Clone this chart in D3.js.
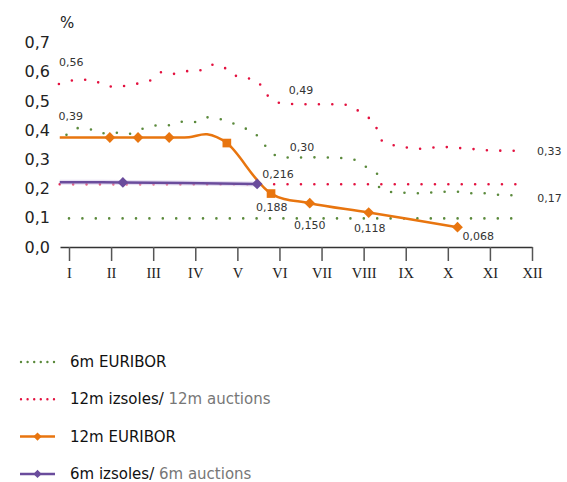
<!DOCTYPE html>
<html>
<head>
<meta charset="utf-8">
<script src="https://cdn.jsdelivr.net/npm/d3@7"></script>
<style>
  body { margin: 0; background: #fff; }
  svg { display: block; font-family: "DejaVu Sans", Verdana, sans-serif; }
</style>
</head>
<body>
<div id="chart"></div>
<script>
var months = ["I", "II", "III", "IV", "V", "VI", "VII", "VIII", "IX", "X", "XI", "XII"];
var yTicks = [0, 0.1, 0.2, 0.3, 0.4, 0.5, 0.6, 0.7];

// [month position, value]
var euribor6m = [[0.94,0.384],[1.19,0.407],[1.48,0.404],[1.75,0.389],[2.04,0.393],[2.35,0.386],
  [2.85,0.410],[3.13,0.417],[3.41,0.417],[3.69,0.429],[3.99,0.428],[4.27,0.444],[4.56,0.439],
  [4.83,0.428],[5.08,0.410],[5.38,0.397],[5.55,0.364],[5.74,0.336],[5.97,0.309],[6.29,0.306],
  [6.91,0.307],[7.53,0.304],[7.83,0.297],[8.08,0.272],[8.33,0.249],[8.37,0.204],[8.63,0.189],
  [8.95,0.186],[9.25,0.184],[9.55,0.186],[9.86,0.189],[10.17,0.190],[10.49,0.184],[10.79,0.185],
  [11.10,0.180],[11.41,0.178],[11.70,0.176]];
var euribor6mBase = [[1.0,0.098],[11.75,0.098]];

var auctions12m = [[0.76,0.558],[1.26,0.573],[1.59,0.570],[1.86,0.552],[2.14,0.549],[2.45,0.555],
  [2.73,0.563],[2.97,0.573],[3.23,0.600],[3.49,0.593],[3.78,0.602],[4.09,0.604],[4.37,0.624],
  [4.64,0.619],[4.85,0.593],[5.16,0.580],[5.47,0.570],[5.63,0.534],[5.85,0.503],[6.15,0.490],
  [6.79,0.489],[7.44,0.489],[7.75,0.478],[8.01,0.451],[8.27,0.424],[8.35,0.384],[8.56,0.352],
  [8.88,0.346],[9.20,0.336],[9.51,0.338],[9.83,0.343],[10.16,0.340],[10.47,0.337],[10.79,0.333],
  [11.10,0.330],[11.43,0.330],[11.74,0.329]];
var auctions12mBase = [[0.78,0.215],[11.65,0.215]];

var euribor12m = [[0.78,0.375],[1.97,0.375],[2.64,0.375],[3.38,0.375],[3.85,0.376],[4.28,0.386],[4.75,0.356],
  [5.80,0.183],[6.72,0.150],[8.12,0.118],[10.23,0.068]];
var auctions6m = [[0.78,0.222],[2.28,0.221],[5.47,0.216]];

var legendNames = [["6m EURIBOR", ""], ["12m izsoles/", " 12m auctions"], ["12m EURIBOR", ""], ["6m izsoles/", " 6m auctions"]];

var green = "#5b8a3c", red = "#e3113f", orange = "#e8750f", purple = "#6a4c9c";
var width = 567, height = 482;
var comma = function (v, p) { return d3.format("." + p + "f")(v).replace(".", ","); };

var svg = d3.select("#chart").append("svg")
    .attr("width", width)
    .attr("height", height);

var x = d3.scaleLinear().domain([0.786, 12]).range([60, 532]);
var y = d3.scaleLinear().domain([0, 0.7]).range([247, 42.6]);

// axes
var xAxis = d3.axisBottom(x)
    .tickValues(d3.range(1, 13))
    .tickFormat(function (d) { return months[d - 1]; })
    .tickSizeInner(14).tickSizeOuter(0).tickPadding(7);
var gx = svg.append("g").attr("transform", "translate(0," + y(0) + ")").call(xAxis);
gx.select(".domain").attr("stroke", "#333").attr("stroke-width", 1.5);
gx.selectAll(".tick line").attr("stroke", "#555").attr("stroke-width", 1.5);
gx.selectAll("text").attr("font-size", 14.5).attr("fill", "#222").attr("font-family", "Liberation Serif");

var yAxis = d3.axisLeft(y).tickValues(yTicks).tickSize(0).tickPadding(10)
    .tickFormat(function (d) { return comma(d, 1); });
var gy = svg.append("g").attr("transform", "translate(60,0)").call(yAxis);
gy.select(".domain").remove();
gy.selectAll("text").attr("font-size", 16).attr("fill", "#222").attr("font-family", "DejaVu Sans");

svg.append("text").attr("x", 60).attr("y", 28).attr("font-size", 15).attr("fill", "#222").text("%");

// lines
var dotted = d3.line().x(function (d) { return x(d[0]); }).y(function (d) { return y(d[1]); })
    .curve(d3.curveMonotoneX);
var smooth = d3.line().x(function (d) { return x(d[0]); }).y(function (d) { return y(d[1]); })
    .curve(d3.curveCatmullRom.alpha(0.5));

function dotLine(data, color) {
  svg.append("path").datum(data)
    .attr("d", dotted)
    .attr("fill", "none")
    .attr("stroke", color)
    .attr("stroke-width", 2.6)
    .attr("stroke-linecap", "round")
    .attr("stroke-dasharray", "0,13.4");
}
dotLine(euribor6mBase, green);
dotLine(euribor6m, green);
dotLine(auctions12mBase, red);
dotLine(auctions12m, red);

svg.append("path").datum(auctions6m)
    .attr("d", smooth).attr("fill", "none")
    .attr("stroke", "#d6c9ea").attr("stroke-width", 5).attr("stroke-opacity", 0.6);
svg.append("path").datum(auctions6m)
    .attr("d", smooth).attr("fill", "none")
    .attr("stroke", purple).attr("stroke-width", 2.5);

svg.append("path").datum(euribor12m)
    .attr("d", smooth).attr("fill", "none")
    .attr("stroke", orange).attr("stroke-width", 2.5);

var diamond = d3.symbol().type(d3.symbolSquare).size(58);
var square = d3.symbol().type(d3.symbolSquare).size(75);
var squareIdx = [6, 7], noMarker = [0, 4, 5];

svg.selectAll(".m12").data(euribor12m.filter(function (d, i) { return noMarker.indexOf(i) < 0; }))
  .enter().append("path")
    .attr("class", "m12")
    .attr("transform", function (d) {
      var sq = squareIdx.indexOf(euribor12m.indexOf(d)) >= 0;
      return "translate(" + x(d[0]) + "," + y(d[1]) + ")" + (sq ? "" : " rotate(45)");
    })
    .attr("d", function (d) { return squareIdx.indexOf(euribor12m.indexOf(d)) >= 0 ? square() : diamond(); })
    .attr("fill", orange);

svg.selectAll(".m6").data(auctions6m.slice(1)).enter().append("path")
    .attr("class", "m6")
    .attr("transform", function (d) { return "translate(" + x(d[0]) + "," + y(d[1]) + ") rotate(45)"; })
    .attr("d", diamond())
    .attr("fill", purple);

// value labels
function label(pt, txt, dx, dy, anchor) {
  svg.append("text")
    .attr("x", x(pt[0]) + dx).attr("y", y(pt[1]) + dy)
    .attr("font-size", 11).attr("fill", "#333")
    .attr("text-anchor", anchor || "start")
    .text(txt);
}
label(auctions12m[0], comma(0.56, 2), 0, -18);
label(euribor6m[0], comma(0.39, 2), -8, -15);
label(auctions12m[19], comma(0.49, 2), 3, -10);
label(euribor6m[19], comma(0.30, 2), -2, -7);
label(auctions12m[auctions12m.length - 1], comma(0.33, 2), 16, 4);
label(euribor6m[euribor6m.length - 1], comma(0.17, 2), 18, 6);
label(auctions6m[2], "0,216", 5, -6);
label(euribor12m[7], "0,188", -15, 17);
label(euribor12m[8], comma(0.150, 3), 0, 26, "middle");
label(euribor12m[9], comma(0.118, 3), 1, 19, "middle");
label(euribor12m[10], comma(0.068, 3), 5, 13);

// legend
var lg = svg.selectAll(".lg").data(legendNames).enter().append("g")
    .attr("class", "lg")
    .attr("transform", function (d, i) { return "translate(0," + (362 + i * 37.3) + ")"; });

lg.each(function (d, i) {
  var g = d3.select(this);
  if (i < 2) {
    g.append("line").attr("x1", 21).attr("x2", 54).attr("y1", 0).attr("y2", 0)
      .attr("stroke", i === 0 ? green : red).attr("stroke-width", 2.4)
      .attr("stroke-linecap", "round").attr("stroke-dasharray", "0,6.6");
  } else {
    var c = i === 2 ? orange : purple;
    g.append("line").attr("x1", 20).attr("x2", 55).attr("y1", 0).attr("y2", 0)
      .attr("stroke", c).attr("stroke-width", 2.5);
    g.append("path").attr("transform", "translate(37.5,0) rotate(45)")
      .attr("d", d3.symbol().type(d3.symbolSquare).size(34)()).attr("fill", c);
  }
  var t = g.append("text").attr("x", 70).attr("y", 5).attr("font-size", 15).attr("fill", "#111");
  t.append("tspan").text(d[0]);
  if (d[1]) t.append("tspan").attr("fill", "#777").text(d[1]);
});

svg.append("text").attr("x", 438).attr("y", 494).attr("font-size", 13).attr("fill", "#333")
    .text("Avots: Valsts kase");
</script>
</body>
</html>
